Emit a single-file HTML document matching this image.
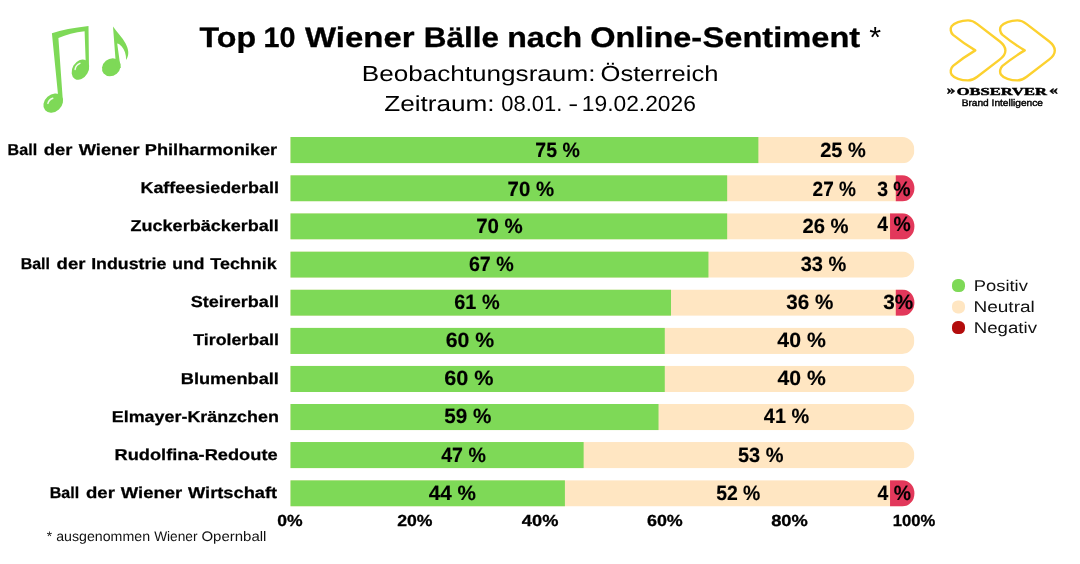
<!DOCTYPE html>
<html lang="de">
<head>
<meta charset="utf-8">
<title>Top 10 Wiener Bälle nach Online-Sentiment</title>
<style>
html,body{margin:0;padding:0;background:#fff;}
body{width:1080px;height:564px;overflow:hidden;font-family:"Liberation Sans", sans-serif;}
svg{display:block;}
text{white-space:pre;text-rendering:geometricPrecision;}
.s0{font:700 28.3px "Liberation Sans", sans-serif;fill:#000;stroke:#000;stroke-width:0.3px;}
.s1{font:400 29px "Liberation Sans", sans-serif;fill:#000;}
.s2{font:400 21.8px "Liberation Sans", sans-serif;fill:#000;}
.s3{font:700 15.8px "Liberation Sans", sans-serif;fill:#000;stroke:#000;stroke-width:0.25px;}
.s4{font:700 20.6px "Liberation Sans", sans-serif;fill:#000;stroke:#000;stroke-width:0.15px;}
.s5{font:700 16.0px "Liberation Sans", sans-serif;fill:#000;stroke:#000;stroke-width:0.3px;}
.s6{font:400 13.8px "Liberation Sans", sans-serif;fill:#111;}
.s7{font:400 15.6px "Liberation Sans", sans-serif;fill:#111;}
.s8{font:700 12.6px "Liberation Serif", serif;fill:#000;stroke:#000;stroke-width:0.45px;}
.s9{font:700 10.7px "Liberation Serif", serif;fill:#000;stroke:#000;stroke-width:0.45px;}
.s10{font:400 9.6px "Liberation Sans", sans-serif;fill:#000;stroke:#000;stroke-width:0.42px;}
</style>
</head>
<body>
<svg width="1080" height="564" viewBox="0 0 1080 564">
<rect width="1080" height="564" fill="#fff"/>
<defs>
<clipPath id="c0"><path d="M290.30 137.00H902.40A12 13.1 0 0 1 914.40 150.15A12 13.1 0 0 1 902.40 163.30H290.30Z"/></clipPath>
<clipPath id="c1"><path d="M290.30 175.13H902.40A12 13.1 0 0 1 914.40 188.28A12 13.1 0 0 1 902.40 201.43H290.30Z"/></clipPath>
<clipPath id="c2"><path d="M290.30 213.26H902.40A12 13.1 0 0 1 914.40 226.41A12 13.1 0 0 1 902.40 239.56H290.30Z"/></clipPath>
<clipPath id="c3"><path d="M290.30 251.39H902.40A12 13.1 0 0 1 914.40 264.54A12 13.1 0 0 1 902.40 277.69H290.30Z"/></clipPath>
<clipPath id="c4"><path d="M290.30 289.52H902.40A12 13.1 0 0 1 914.40 302.67A12 13.1 0 0 1 902.40 315.82H290.30Z"/></clipPath>
<clipPath id="c5"><path d="M290.30 327.65H902.40A12 13.1 0 0 1 914.40 340.80A12 13.1 0 0 1 902.40 353.95H290.30Z"/></clipPath>
<clipPath id="c6"><path d="M290.30 365.78H902.40A12 13.1 0 0 1 914.40 378.93A12 13.1 0 0 1 902.40 392.08H290.30Z"/></clipPath>
<clipPath id="c7"><path d="M290.30 403.91H902.40A12 13.1 0 0 1 914.40 417.06A12 13.1 0 0 1 902.40 430.21H290.30Z"/></clipPath>
<clipPath id="c8"><path d="M290.30 442.04H902.40A12 13.1 0 0 1 914.40 455.19A12 13.1 0 0 1 902.40 468.34H290.30Z"/></clipPath>
<clipPath id="c9"><path d="M290.30 480.17H902.40A12 13.1 0 0 1 914.40 493.32A12 13.1 0 0 1 902.40 506.47H290.30Z"/></clipPath>
</defs>
<g clip-path="url(#c0)">
<rect x="290.30" y="137.00" width="624.10" height="26.3" fill="#ffe6c2"/>
<rect x="290.30" y="137.00" width="468.07" height="26.3" fill="#7ed957"/>
</g>
<g clip-path="url(#c1)">
<rect x="290.30" y="175.13" width="624.10" height="26.3" fill="#ffe6c2"/>
<rect x="290.30" y="175.13" width="436.87" height="26.3" fill="#7ed957"/>
<rect x="895.78" y="175.13" width="19.62" height="26.3" fill="#e2385b"/>
</g>
<g clip-path="url(#c2)">
<rect x="290.30" y="213.26" width="624.10" height="26.3" fill="#ffe6c2"/>
<rect x="290.30" y="213.26" width="436.87" height="26.3" fill="#7ed957"/>
<rect x="890.04" y="213.26" width="25.36" height="26.3" fill="#e2385b"/>
</g>
<g clip-path="url(#c3)">
<rect x="290.30" y="251.39" width="624.10" height="26.3" fill="#ffe6c2"/>
<rect x="290.30" y="251.39" width="418.15" height="26.3" fill="#7ed957"/>
</g>
<g clip-path="url(#c4)">
<rect x="290.30" y="289.52" width="624.10" height="26.3" fill="#ffe6c2"/>
<rect x="290.30" y="289.52" width="380.70" height="26.3" fill="#7ed957"/>
<rect x="895.78" y="289.52" width="19.62" height="26.3" fill="#e2385b"/>
</g>
<g clip-path="url(#c5)">
<rect x="290.30" y="327.65" width="624.10" height="26.3" fill="#ffe6c2"/>
<rect x="290.30" y="327.65" width="374.46" height="26.3" fill="#7ed957"/>
</g>
<g clip-path="url(#c6)">
<rect x="290.30" y="365.78" width="624.10" height="26.3" fill="#ffe6c2"/>
<rect x="290.30" y="365.78" width="374.46" height="26.3" fill="#7ed957"/>
</g>
<g clip-path="url(#c7)">
<rect x="290.30" y="403.91" width="624.10" height="26.3" fill="#ffe6c2"/>
<rect x="290.30" y="403.91" width="368.22" height="26.3" fill="#7ed957"/>
</g>
<g clip-path="url(#c8)">
<rect x="290.30" y="442.04" width="624.10" height="26.3" fill="#ffe6c2"/>
<rect x="290.30" y="442.04" width="293.33" height="26.3" fill="#7ed957"/>
</g>
<g clip-path="url(#c9)">
<rect x="290.30" y="480.17" width="624.10" height="26.3" fill="#ffe6c2"/>
<rect x="290.30" y="480.17" width="274.60" height="26.3" fill="#7ed957"/>
<rect x="890.04" y="480.17" width="25.36" height="26.3" fill="#e2385b"/>
</g>
<rect x="952.0" y="279.10" width="13" height="13" rx="5.7" ry="5.7" fill="#7ed957"/>
<rect x="952.0" y="300.40" width="13" height="13" rx="5.7" ry="5.7" fill="#ffe6c2"/>
<rect x="952.0" y="321.10" width="13" height="13" rx="5.7" ry="5.7" fill="#b30c0c"/>
<g id="notes" fill="#7ed957" stroke="none">
<path d="M51.9 33.2 Q66.0 28.4 88.5 25.9 L89.0 70.0 L85.7 62.0 L84.6 31.2 Q70.0 32.8 58.4 38.0 L62.9 101.5 L58.0 94.5 Z"/>
<ellipse cx="53.2" cy="103.1" rx="10.8" ry="8.5" transform="rotate(-42 53.2 103.1)"/>
<ellipse cx="80.4" cy="69.6" rx="10.8" ry="8.0" transform="rotate(-60 80.4 69.6)"/>
<ellipse cx="111.3" cy="67.2" rx="9.9" ry="8.4" transform="rotate(-40 111.3 67.2)"/>
<path d="M113.0 26.5 C116.5 31.5 122.5 37.5 125.6 43.5 C128.6 49.5 129.6 54.5 126.1 59.9 C126.3 54.5 124.5 49.6 121.5 46.3 C120.0 44.6 118.5 43.7 117.2 43.5 L120.6 68.0 L116.2 68.5 Z"/>
</g>
<g fill="none" stroke="#fff" stroke-width="1.5" stroke-linecap="round" opacity="0.9">
<path d="M47.9 103.4 C48.6 101.0 50.4 99.0 52.8 98.3"/>
<path d="M75.1 69.4 C75.6 66.6 77.4 64.4 79.9 63.4"/>
</g>
<g fill="none" stroke="#fcd12f" stroke-width="2.4" stroke-linejoin="round"><path d="M975.3 50.4 Q963.5 43.4 953.1 34.9 C950.5 32.5 950.0 28.5 951.7 26.1 C954.0 22.8 961.0 20.4 968.0 20.4 C972.0 20.4 975.0 22.3 977.3 24.1 L999.6 41.2 C1003.2 44.0 1005.4 47.4 1005.4 50.4 C1005.4 53.4 1003.2 56.8 999.6 59.6 L977.3 76.7 C975.0 78.5 972.0 80.4 968.0 80.4 C961.0 80.4 954.0 78.0 951.7 74.7 C950.0 72.3 950.5 68.3 953.1 65.9 Q963.5 57.4 975.3 50.4 Z"/><path transform="translate(49.4 0)" d="M975.3 50.4 Q963.5 43.4 953.1 34.9 C950.5 32.5 950.0 28.5 951.7 26.1 C954.0 22.8 961.0 20.4 968.0 20.4 C972.0 20.4 975.0 22.3 977.3 24.1 L999.6 41.2 C1003.2 44.0 1005.4 47.4 1005.4 50.4 C1005.4 53.4 1003.2 56.8 999.6 59.6 L977.3 76.7 C975.0 78.5 972.0 80.4 968.0 80.4 C961.0 80.4 954.0 78.0 951.7 74.7 C950.0 72.3 950.5 68.3 953.1 65.9 Q963.5 57.4 975.3 50.4 Z"/></g>
<g id="texts">
<text id="title"><tspan class="m s0" id="title0" x="199.50" y="46.95" textLength="56.58" lengthAdjust="spacingAndGlyphs">Top</tspan> <tspan class="m s0" id="title1" x="263.48" y="46.95" textLength="32.01" lengthAdjust="spacingAndGlyphs">10</tspan> <tspan class="m s0" id="title2" x="304.95" y="46.95" textLength="109.66" lengthAdjust="spacingAndGlyphs">Wiener</tspan> <tspan class="m s0" id="title3" x="423.83" y="46.95" textLength="75.12" lengthAdjust="spacingAndGlyphs">Bälle</tspan> <tspan class="m s0" id="title4" x="507.24" y="46.95" textLength="74.99" lengthAdjust="spacingAndGlyphs">nach</tspan> <tspan class="m s0" id="title5" x="590.21" y="46.95" textLength="111.98" lengthAdjust="spacingAndGlyphs">Online-</tspan><tspan class="m s0" id="title6" x="702.49" y="46.95" textLength="157.76" lengthAdjust="spacingAndGlyphs">Sentiment</tspan> <tspan class="m s1" id="star" x="869.26" y="47.00" textLength="11.84" lengthAdjust="spacingAndGlyphs">*</tspan></text>
<text id="sub1"><tspan class="m s2" id="sub1_0" x="361.72" y="81.00" textLength="233.67" lengthAdjust="spacingAndGlyphs">Beobachtungsraum:</tspan> <tspan class="m s2" id="sub1_1" x="600.50" y="81.00" textLength="117.95" lengthAdjust="spacingAndGlyphs">Österreich</tspan></text>
<text id="sub2"><tspan class="m s2" id="sub2_0" x="384.17" y="111.40" textLength="110.50" lengthAdjust="spacingAndGlyphs">Zeitraum:</tspan> <tspan class="m s2" id="sub2_1" x="501.32" y="111.40" textLength="60.98" lengthAdjust="spacingAndGlyphs">08.01.</tspan> <tspan class="m s2" id="sub2_2" x="568.28" y="111.40" textLength="9.98" lengthAdjust="spacingAndGlyphs">-</tspan> <tspan class="m s2" id="sub2_3" x="581.81" y="111.40" textLength="114.06" lengthAdjust="spacingAndGlyphs">19.02.2026</tspan></text>
<text id="lab0"><tspan class="m s3" id="lab0_0" x="7.64" y="154.90" textLength="29.51" lengthAdjust="spacingAndGlyphs">Ball</tspan> <tspan class="m s3" id="lab0_1" x="43.84" y="154.90" textLength="28.66" lengthAdjust="spacingAndGlyphs">der</tspan> <tspan class="m s3" id="lab0_2" x="78.65" y="154.90" textLength="61.05" lengthAdjust="spacingAndGlyphs">Wiener</tspan> <tspan class="m s3" id="lab0_3" x="144.84" y="154.90" textLength="132.36" lengthAdjust="spacingAndGlyphs">Philharmoniker</tspan></text>
<text class="m s3" id="lab1" x="140.48" y="193.00" textLength="138.43" lengthAdjust="spacingAndGlyphs">Kaffeesiederball</text>
<text class="m s3" id="lab2" x="130.54" y="231.10" textLength="148.36" lengthAdjust="spacingAndGlyphs">Zuckerbäckerball</text>
<text id="lab3"><tspan class="m s3" id="lab3_0" x="20.70" y="269.20" textLength="29.30" lengthAdjust="spacingAndGlyphs">Ball</tspan> <tspan class="m s3" id="lab3_1" x="56.63" y="269.20" textLength="28.92" lengthAdjust="spacingAndGlyphs">der</tspan> <tspan class="m s3" id="lab3_2" x="91.18" y="269.20" textLength="75.12" lengthAdjust="spacingAndGlyphs">Industrie</tspan> <tspan class="m s3" id="lab3_3" x="172.35" y="269.20" textLength="32.06" lengthAdjust="spacingAndGlyphs">und</tspan> <tspan class="m s3" id="lab3_4" x="210.35" y="269.20" textLength="66.35" lengthAdjust="spacingAndGlyphs">Technik</tspan></text>
<text class="m s3" id="lab4" x="190.68" y="307.30" textLength="88.24" lengthAdjust="spacingAndGlyphs">Steirerball</text>
<text class="m s3" id="lab5" x="193.29" y="345.40" textLength="85.62" lengthAdjust="spacingAndGlyphs">Tirolerball</text>
<text class="m s3" id="lab6" x="180.78" y="383.50" textLength="98.14" lengthAdjust="spacingAndGlyphs">Blumenball</text>
<text class="m s3" id="lab7" x="111.79" y="421.60" textLength="167.12" lengthAdjust="spacingAndGlyphs">Elmayer-Kränzchen</text>
<text class="m s3" id="lab8" x="114.49" y="459.70" textLength="163.12" lengthAdjust="spacingAndGlyphs">Rudolfina-Redoute</text>
<text id="lab9"><tspan class="m s3" id="lab9_0" x="49.71" y="497.80" textLength="29.44" lengthAdjust="spacingAndGlyphs">Ball</tspan> <tspan class="m s3" id="lab9_1" x="85.99" y="497.80" textLength="28.92" lengthAdjust="spacingAndGlyphs">der</tspan> <tspan class="m s3" id="lab9_2" x="120.85" y="497.80" textLength="61.35" lengthAdjust="spacingAndGlyphs">Wiener</tspan> <tspan class="m s3" id="lab9_3" x="188.00" y="497.80" textLength="89.20" lengthAdjust="spacingAndGlyphs">Wirtschaft</tspan></text>
<text class="m s4" id="pos0" x="535.33" y="156.90" textLength="44.44" lengthAdjust="spacingAndGlyphs">75 %</text>
<text class="m s4" id="neu0" x="820.26" y="156.90" textLength="45.57" lengthAdjust="spacingAndGlyphs">25 %</text>
<text class="m s4" id="pos1" x="507.62" y="195.90" textLength="46.49" lengthAdjust="spacingAndGlyphs">70 %</text>
<text class="m s4" id="neu1" x="812.58" y="195.90" textLength="43.31" lengthAdjust="spacingAndGlyphs">27 %</text>
<text class="m s4" id="neg1" x="877.14" y="195.90" textLength="33.53" lengthAdjust="spacingAndGlyphs">3 %</text>
<text class="m s4" id="pos2" x="476.13" y="232.70" textLength="46.69" lengthAdjust="spacingAndGlyphs">70 %</text>
<text class="m s4" id="neu2" x="802.48" y="232.70" textLength="46.14" lengthAdjust="spacingAndGlyphs">26 %</text>
<text class="m s4" id="neg2" x="877.34" y="230.70" textLength="33.33" lengthAdjust="spacingAndGlyphs">4 %</text>
<text class="m s4" id="pos3" x="468.88" y="270.90" textLength="44.83" lengthAdjust="spacingAndGlyphs">67 %</text>
<text class="m s4" id="neu3" x="800.66" y="270.90" textLength="45.56" lengthAdjust="spacingAndGlyphs">33 %</text>
<text class="m s4" id="pos4" x="454.26" y="308.90" textLength="45.36" lengthAdjust="spacingAndGlyphs">61 %</text>
<text class="m s4" id="neu4" x="786.37" y="308.90" textLength="47.04" lengthAdjust="spacingAndGlyphs">36 %</text>
<text class="m s4" id="neg4" x="883.26" y="308.90" textLength="29.98" lengthAdjust="spacingAndGlyphs">3%</text>
<text class="m s4" id="pos5" x="445.67" y="346.70" textLength="48.48" lengthAdjust="spacingAndGlyphs">60 %</text>
<text class="m s4" id="neu5" x="777.38" y="346.70" textLength="48.44" lengthAdjust="spacingAndGlyphs">40 %</text>
<text class="m s4" id="pos6" x="444.23" y="384.90" textLength="49.28" lengthAdjust="spacingAndGlyphs">60 %</text>
<text class="m s4" id="neu6" x="777.58" y="384.50" textLength="48.25" lengthAdjust="spacingAndGlyphs">40 %</text>
<text class="m s4" id="pos7" x="444.24" y="423.20" textLength="47.09" lengthAdjust="spacingAndGlyphs">59 %</text>
<text class="m s4" id="neu7" x="763.83" y="423.40" textLength="45.31" lengthAdjust="spacingAndGlyphs">41 %</text>
<text class="m s4" id="pos8" x="441.23" y="462.00" textLength="44.60" lengthAdjust="spacingAndGlyphs">47 %</text>
<text class="m s4" id="neu8" x="737.96" y="462.10" textLength="45.54" lengthAdjust="spacingAndGlyphs">53 %</text>
<text class="m s4" id="pos9" x="428.84" y="499.90" textLength="47.18" lengthAdjust="spacingAndGlyphs">44 %</text>
<text class="m s4" id="neu9" x="716.17" y="499.80" textLength="44.21" lengthAdjust="spacingAndGlyphs">52 %</text>
<text class="m s4" id="neg9" x="877.51" y="499.80" textLength="33.37" lengthAdjust="spacingAndGlyphs">4 %</text>
<text class="m s5" id="ax0" x="277.37" y="526.00" textLength="25.33" lengthAdjust="spacingAndGlyphs">0%</text>
<text class="m s5" id="ax1" x="397.22" y="526.00" textLength="35.27" lengthAdjust="spacingAndGlyphs">20%</text>
<text class="m s5" id="ax2" x="521.88" y="526.00" textLength="36.48" lengthAdjust="spacingAndGlyphs">40%</text>
<text class="m s5" id="ax3" x="646.99" y="526.00" textLength="35.77" lengthAdjust="spacingAndGlyphs">60%</text>
<text class="m s5" id="ax4" x="771.19" y="526.00" textLength="36.62" lengthAdjust="spacingAndGlyphs">80%</text>
<text class="m s5" id="ax5" x="892.71" y="526.00" textLength="42.54" lengthAdjust="spacingAndGlyphs">100%</text>
<text id="foot"><tspan class="m s6" id="foot0" x="46.79" y="540.90" textLength="5.32" lengthAdjust="spacingAndGlyphs">*</tspan> <tspan class="m s6" id="foot1" x="56.18" y="540.90" textLength="93.88" lengthAdjust="spacingAndGlyphs">ausgenommen</tspan> <tspan class="m s6" id="foot2" x="154.13" y="540.90" textLength="43.44" lengthAdjust="spacingAndGlyphs">Wiener</tspan> <tspan class="m s6" id="foot3" x="201.42" y="540.90" textLength="64.97" lengthAdjust="spacingAndGlyphs">Opernball</tspan></text>
<text class="m s7" id="leg0" x="973.72" y="291.00" textLength="54.15" lengthAdjust="spacingAndGlyphs">Positiv</text>
<text class="m s7" id="leg1" x="973.45" y="311.80" textLength="61.36" lengthAdjust="spacingAndGlyphs">Neutral</text>
<text class="m s7" id="leg2" x="973.73" y="332.70" textLength="63.26" lengthAdjust="spacingAndGlyphs">Negativ</text>
<text id="logo1"><tspan class="m s8" id="logo1_0" x="946.83" y="94.40" textLength="8.65" lengthAdjust="spacingAndGlyphs">»</tspan><tspan class="m s9" id="logo1_1" x="956.70" y="94.55" textLength="90.10" lengthAdjust="spacingAndGlyphs">OBSERVER</tspan><tspan class="m s8" id="logo1_2" x="1049.02" y="94.40" textLength="8.97" lengthAdjust="spacingAndGlyphs">«</tspan></text>
<text class="m s10" id="logo2" x="961.68" y="105.80" textLength="81.28" lengthAdjust="spacingAndGlyphs">Brand Intelligence</text>
</g>
</svg>
</body>
</html>
